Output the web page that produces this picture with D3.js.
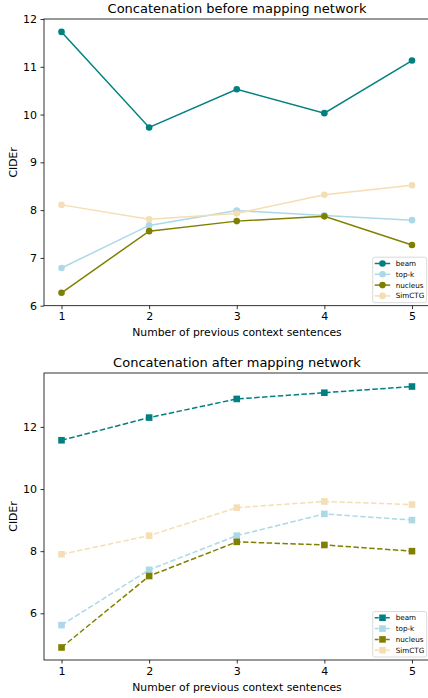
<!DOCTYPE html>
<html>
<head>
<meta charset="utf-8">
<script src="https://cdn.jsdelivr.net/npm/d3@7/dist/d3.min.js"></script>
<style>
  html, body { margin: 0; padding: 0; background: #fff; }
  svg { display: block; font-family: "DejaVu Sans", sans-serif; }
</style>
</head>
<body>
<svg id="chart" width="428" height="698"></svg>
<script>
// Number of previous context sentences
const contextSizes = [1, 2, 3, 4, 5];
const seriesNames = ["beam", "top-k", "nucleus", "SimCTG"];
const seriesColors = ["#008080", "#add8e6", "#808000", "#f5deb3"];

// CIDEr, concatenation before the mapping network
const beforeBeam    = [11.73, 9.73, 10.53, 10.03, 11.13];
const beforeTopK    = [6.79, 7.68, 7.99, 7.89, 7.79];
const beforeNucleus = [6.27, 7.56, 7.77, 7.87, 7.27];
const beforeSimCTG  = [8.11, 7.81, 7.93, 8.32, 8.52];

// CIDEr, concatenation after the mapping network
const afterBeam    = [11.57, 12.3, 12.9, 13.1, 13.3];
const afterTopK    = [5.62, 7.4, 8.5, 9.2, 9.0];
const afterNucleus = [4.9, 7.2, 8.3, 8.2, 8.0];
const afterSimCTG  = [7.9, 8.5, 9.4, 9.6, 9.5];

const xTicks = [1, 2, 3, 4, 5];
const yTicksBefore = [6, 7, 8, 9, 10, 11, 12];
const yTicksAfter = [6, 8, 10, 12];

const svg = d3.select("#chart");

function drawPanel(cfg) {
  const { top, bottom, left, right, title, series, yDomain, yTicks, marker, dashed } = cfg;
  const g = svg.append("g");

  const x = d3.scaleLinear().domain([0.8, 5.2]).range([left, right]);
  const y = d3.scaleLinear().domain(yDomain).range([bottom, top]);

  // axis frame
  g.append("rect")
    .attr("x", left).attr("y", top)
    .attr("width", right - left).attr("height", bottom - top)
    .attr("fill", "none").attr("stroke", "#000").attr("stroke-width", 0.8);

  const xAxis = g.append("g")
    .attr("transform", `translate(0,${bottom})`)
    .call(d3.axisBottom(x).tickValues(xTicks).tickFormat(d3.format("d")).tickSize(3.5).tickPadding(3.5));
  const yAxis = g.append("g")
    .attr("transform", `translate(${left},0)`)
    .call(d3.axisLeft(y).tickValues(yTicks).tickFormat(d3.format("d")).tickSize(3.5).tickPadding(3.5));
  [xAxis, yAxis].forEach(a => {
    a.select(".domain").remove();
    a.selectAll(".tick line").attr("stroke", "#000").attr("stroke-width", 0.8);
    a.selectAll(".tick text").attr("fill", "#000").style("font-size", "11px")
      .style("font-family", "'DejaVu Sans', sans-serif");
  });

  // title
  g.append("text")
    .attr("x", (left + 428) / 2 + 1).attr("y", top - 6)
    .attr("text-anchor", "middle")
    .style("font-size", "13px")
    .text(title);

  // axis labels
  g.append("text")
    .attr("x", (left + 428) / 2 + 1).attr("y", bottom + 30.5)
    .attr("text-anchor", "middle")
    .style("font-size", "10.8px")
    .text("Number of previous context sentences");
  g.append("text")
    .attr("transform", `translate(16.5,${(top + bottom) / 2}) rotate(-90)`)
    .attr("text-anchor", "middle")
    .style("font-size", "10.8px")
    .text("CIDEr");

  const line = d3.line().x((d, i) => x(contextSizes[i])).y(d => y(d));

  series.forEach((vals, si) => {
    const color = seriesColors[si];
    g.append("path")
      .datum(vals)
      .attr("d", line)
      .attr("fill", "none")
      .attr("stroke", color)
      .attr("stroke-width", 1.5)
      .attr("stroke-dasharray", dashed ? "5.5,2.4" : null);
    const pts = g.append("g").selectAll(".pt").data(vals).enter();
    if (marker === "circle") {
      pts.append("circle")
        .attr("cx", (d, i) => x(contextSizes[i]))
        .attr("cy", d => y(d))
        .attr("r", 3.3)
        .attr("fill", color);
    } else {
      pts.append("rect")
        .attr("x", (d, i) => x(contextSizes[i]) - 3.3)
        .attr("y", d => y(d) - 3.3)
        .attr("width", 6.6).attr("height", 6.6)
        .attr("fill", color);
    }
  });

  // legend
  const lx = 372.7, ly = bottom - 48.5, lw = 54, lh = 45.5;
  const leg = g.append("g");
  leg.append("rect")
    .attr("x", lx).attr("y", ly).attr("width", lw).attr("height", lh)
    .attr("rx", 2).attr("ry", 2)
    .attr("fill", "#fff").attr("fill-opacity", 0.8)
    .attr("stroke", "#d0d0d0").attr("stroke-width", 0.8);
  seriesNames.forEach((name, si) => {
    const cy = ly + 6.3 + si * 10.8;
    const color = seriesColors[si];
    leg.append("line")
      .attr("x1", lx + 2).attr("x2", lx + 17.5)
      .attr("y1", cy).attr("y2", cy)
      .attr("stroke", color).attr("stroke-width", 1.5)
      .attr("stroke-dasharray", dashed ? "4,1.5" : null);
    if (marker === "circle") {
      leg.append("circle").attr("cx", lx + 9.8).attr("cy", cy).attr("r", 3.3).attr("fill", color);
    } else {
      leg.append("rect").attr("x", lx + 9.8 - 3.3).attr("y", cy - 3.3)
        .attr("width", 6.6).attr("height", 6.6).attr("fill", color);
    }
    leg.append("text")
      .attr("x", lx + 23).attr("y", cy + 2.5)
      .style("font-size", "7.2px")
      .text(name);
  });
}

drawPanel({
  top: 19, bottom: 305.7, left: 44, right: 429.5,
  title: "Concatenation before mapping network",
  series: [beforeBeam, beforeTopK, beforeNucleus, beforeSimCTG],
  yDomain: [6, 12], yTicks: yTicksBefore,
  marker: "circle", dashed: false
});

drawPanel({
  top: 373, bottom: 660, left: 44, right: 429.5,
  title: "Concatenation after mapping network",
  series: [afterBeam, afterTopK, afterNucleus, afterSimCTG],
  yDomain: [4.497, 13.735], yTicks: yTicksAfter,
  marker: "square", dashed: true
});
</script>
</body>
</html>
